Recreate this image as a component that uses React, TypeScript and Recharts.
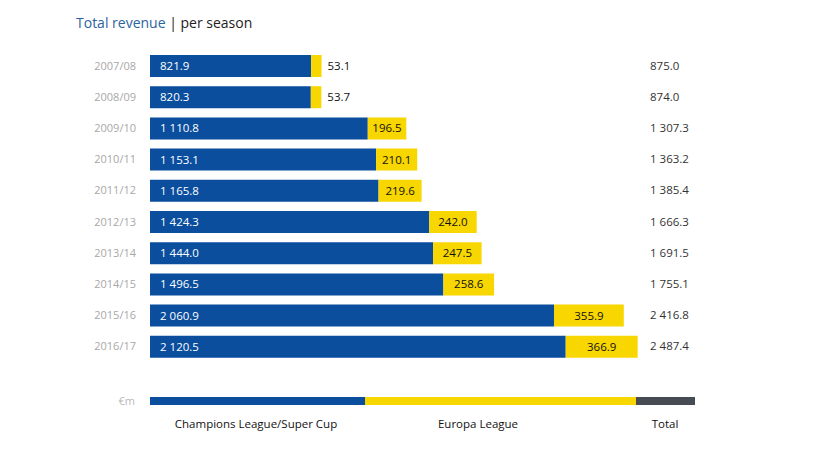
import React from 'react';
import { BarChart, Bar, XAxis, YAxis, LabelList } from 'recharts';

const seasons = ['2007/08', '2008/09', '2009/10', '2010/11', '2011/12', '2012/13', '2013/14', '2014/15', '2015/16', '2016/17'];
const championsLeague = [821.9, 820.3, 1110.8, 1153.1, 1165.8, 1424.3, 1444.0, 1496.5, 2060.9, 2120.5];
const europaLeague = [53.1, 53.7, 196.5, 210.1, 219.6, 242.0, 247.5, 258.6, 355.9, 366.9];
const totals = [875.0, 874.0, 1307.3, 1363.2, 1385.4, 1666.3, 1691.5, 1755.1, 2416.8, 2487.4];
const legendNames = ['Champions League/Super Cup', 'Europa League', 'Total'];

const BLUE = '#0a4e9d';
const YELLOW = '#f8d600';
const GREY = '#474c54';
const FONT = '"Open Sans", "Noto Sans", sans-serif';

const data = seasons.map((s, i) => ({
  season: s,
  cl: championsLeague[i],
  el: europaLeague[i],
  total: totals[i],
}));

const fmt = (v: number) => {
  const [int, dec] = v.toFixed(1).split('.');
  const withSpace = int.replace(/\B(?=(\d{3})+(?!\d))/g, ' ');
  return `${withSpace}.${dec}`;
};

const YTick = (props: any) => {
  const { y, payload } = props;
  const row = data.find((d) => d.season === payload.value);
  return (
    <g>
      <text x={136} y={y} dy={4} textAnchor="end" fontSize={11} fill="#a8a8a8" fontFamily={FONT}>
        {payload.value}
      </text>
      <text x={650} y={y} dy={4} textAnchor="start" fontSize={11.5} fill="#333" fontFamily={FONT}>
        {row ? fmt(row.total) : ''}
      </text>
    </g>
  );
};

const CLLabel = (props: any) => {
  const { x, y, height, value } = props;
  return (
    <text x={x + 10} y={y + height / 2} dy={4} fontSize={11.5} fill="#fff" fontFamily={FONT}>
      {fmt(value)}
    </text>
  );
};

const ELLabel = (props: any) => {
  const { x, y, width, height, value } = props;
  const narrow = width < 25;
  return (
    <text
      x={narrow ? x + width + 6 : x + width / 2}
      y={y + height / 2}
      dy={4}
      textAnchor={narrow ? 'start' : 'middle'}
      fontSize={11.5}
      fill="#111"
      fontFamily={FONT}
    >
      {fmt(value)}
    </text>
  );
};

const legendColors = [BLUE, YELLOW, GREY];
const legendSegs = [
  { x: 150, w: 215, labelX: 256 },
  { x: 365, w: 271, labelX: 478 },
  { x: 636, w: 59, labelX: 665 },
];

export default function App() {
  return (
    <div style={{ position: 'absolute', left: 0, top: 0, width: 814, height: 456, background: '#fff', fontFamily: FONT }}>
      <div style={{ position: 'absolute', left: 76, top: 14, fontSize: 14, whiteSpace: 'nowrap', lineHeight: '18px' }}>
        <span style={{ color: '#2b62a0' }}>Total revenue</span>
        <span style={{ color: '#222' }}> | per season</span>
      </div>
      <BarChart
        width={814}
        height={456}
        data={data}
        layout="vertical"
        margin={{ top: 50, right: 119, bottom: 94, left: 0 }}
        barSize={22}
      >
        <XAxis type="number" domain={[0, 2780]} hide />
        <YAxis type="category" dataKey="season" width={150} axisLine={false} tickLine={false} tick={<YTick />} interval={0} />
        <Bar dataKey="cl" stackId="a" fill={BLUE} isAnimationActive={false}>
          <LabelList dataKey="cl" content={<CLLabel />} />
        </Bar>
        <Bar dataKey="el" stackId="a" fill={YELLOW} isAnimationActive={false}>
          <LabelList dataKey="el" content={<ELLabel />} />
        </Bar>
      </BarChart>
      <svg width={814} height={60} style={{ position: 'absolute', left: 0, top: 390 }}>
        <text x={135} y={15} textAnchor="end" fontSize={11} fill="#b8b8b8" fontFamily={FONT}>€m</text>
        {legendSegs.map((s, i) => (
          <g key={i}>
            <rect x={s.x} y={7} width={s.w} height={8} fill={legendColors[i]} />
            <text x={s.labelX} y={38} textAnchor="middle" fontSize={11.5} fill="#111" fontFamily={FONT}>
              {legendNames[i]}
            </text>
          </g>
        ))}
      </svg>
    </div>
  );
}
